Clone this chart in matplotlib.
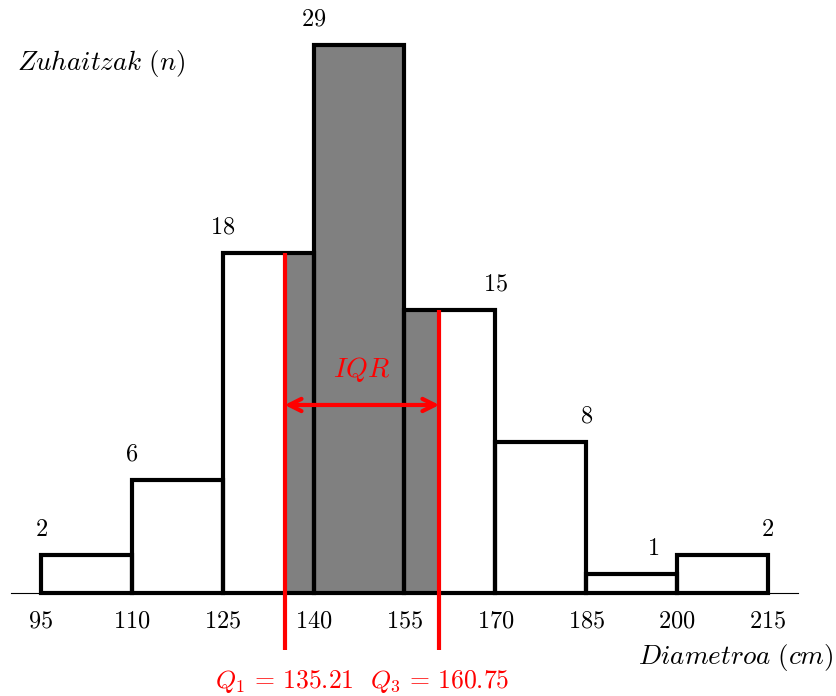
import numpy as np
import matplotlib
matplotlib.use("Agg")
import matplotlib.pyplot as plt

plt.rcParams['mathtext.fontset'] = 'cm'
plt.rcParams['font.family'] = 'serif'

edges = [95, 110, 125, 140, 155, 170, 185, 200, 215]
counts = [2, 6, 18, 29, 15, 8, 1, 2]
q1 = 135.21
q3 = 160.75
count_label_x = [95, 110, 125, 140, 170, 185, 196, 215]
xlabel = r'$Diametroa\ (cm)$'
ylabel = r'$Zuhaitzak\ (n)$'

FS = 17.5
FS_IT = 19.5

fig = plt.figure(figsize=(8.36, 6.96), dpi=100)
ax = fig.add_axes([0, 0, 1, 1])
ax.set_xlim(88.23, 226.23)
ax.set_ylim(-5.45, 31.38)
ax.axis('off')

left = np.array(edges[:-1], dtype=float)
width = np.diff(edges).astype(float)
cnt = np.array(counts, dtype=float)

# white bars
ax.bar(left, cnt, width=width, align='edge', color='white', edgecolor='none', zorder=1)
# gray IQR region
gl = np.clip(left, q1, q3)
gr = np.clip(left + width, q1, q3)
mask = gr > gl
ax.bar(gl[mask], cnt[mask], width=(gr - gl)[mask], align='edge', color='#808080',
       edgecolor='none', zorder=2)
# axis line
ax.plot([90, 220], [0, 0], color='black', lw=0.8, zorder=3)
# bar outlines
bars = ax.bar(left, cnt, width=width, align='edge', fill=False, edgecolor='black',
              lw=3, zorder=4)
for b in bars:
    b.set_joinstyle('miter')

# count labels
for x, c in zip(count_label_x, counts):
    ax.text(x, c + 1.35, f'${c}$', ha='center', va='center', fontsize=FS, zorder=5)

# tick labels
for e in edges:
    ax.text(e, -1.5, f'${e}$', ha='center', va='center', fontsize=FS)

# quartile lines
idx1 = np.searchsorted(edges, q1) - 1
idx3 = np.searchsorted(edges, q3) - 1
ax.plot([q1, q1], [-3.02, counts[idx1]], color='red', lw=3, zorder=6, solid_capstyle='butt')
ax.plot([q3, q3], [-3.02, counts[idx3]], color='red', lw=3, zorder=6, solid_capstyle='butt')

# IQR arrow
ax.annotate('', xy=(q1, 9.95), xytext=(q3, 9.95),
            arrowprops=dict(arrowstyle='<->', color='red', lw=3, mutation_scale=22,
                            shrinkA=0, shrinkB=0), zorder=7)
ax.text((q1 + q3) / 2, 11.85, r'$IQR$', color='red', ha='center', va='center',
        fontsize=20, zorder=7)

ax.text(q1, -4.7, rf'$Q_1 \,=\, {q1}$', color='red', ha='center', va='center', fontsize=18.5)
ax.text(q3, -4.7, rf'$Q_3 \,=\, {q3}$', color='red', ha='center', va='center', fontsize=18.5)

ax.text(225.9, -3.4, xlabel, ha='right', va='center', fontsize=FS_IT)
ax.text(91.0, 28.0, ylabel, ha='left', va='center', fontsize=FS_IT)

fig.savefig('out.png', dpi=100)
